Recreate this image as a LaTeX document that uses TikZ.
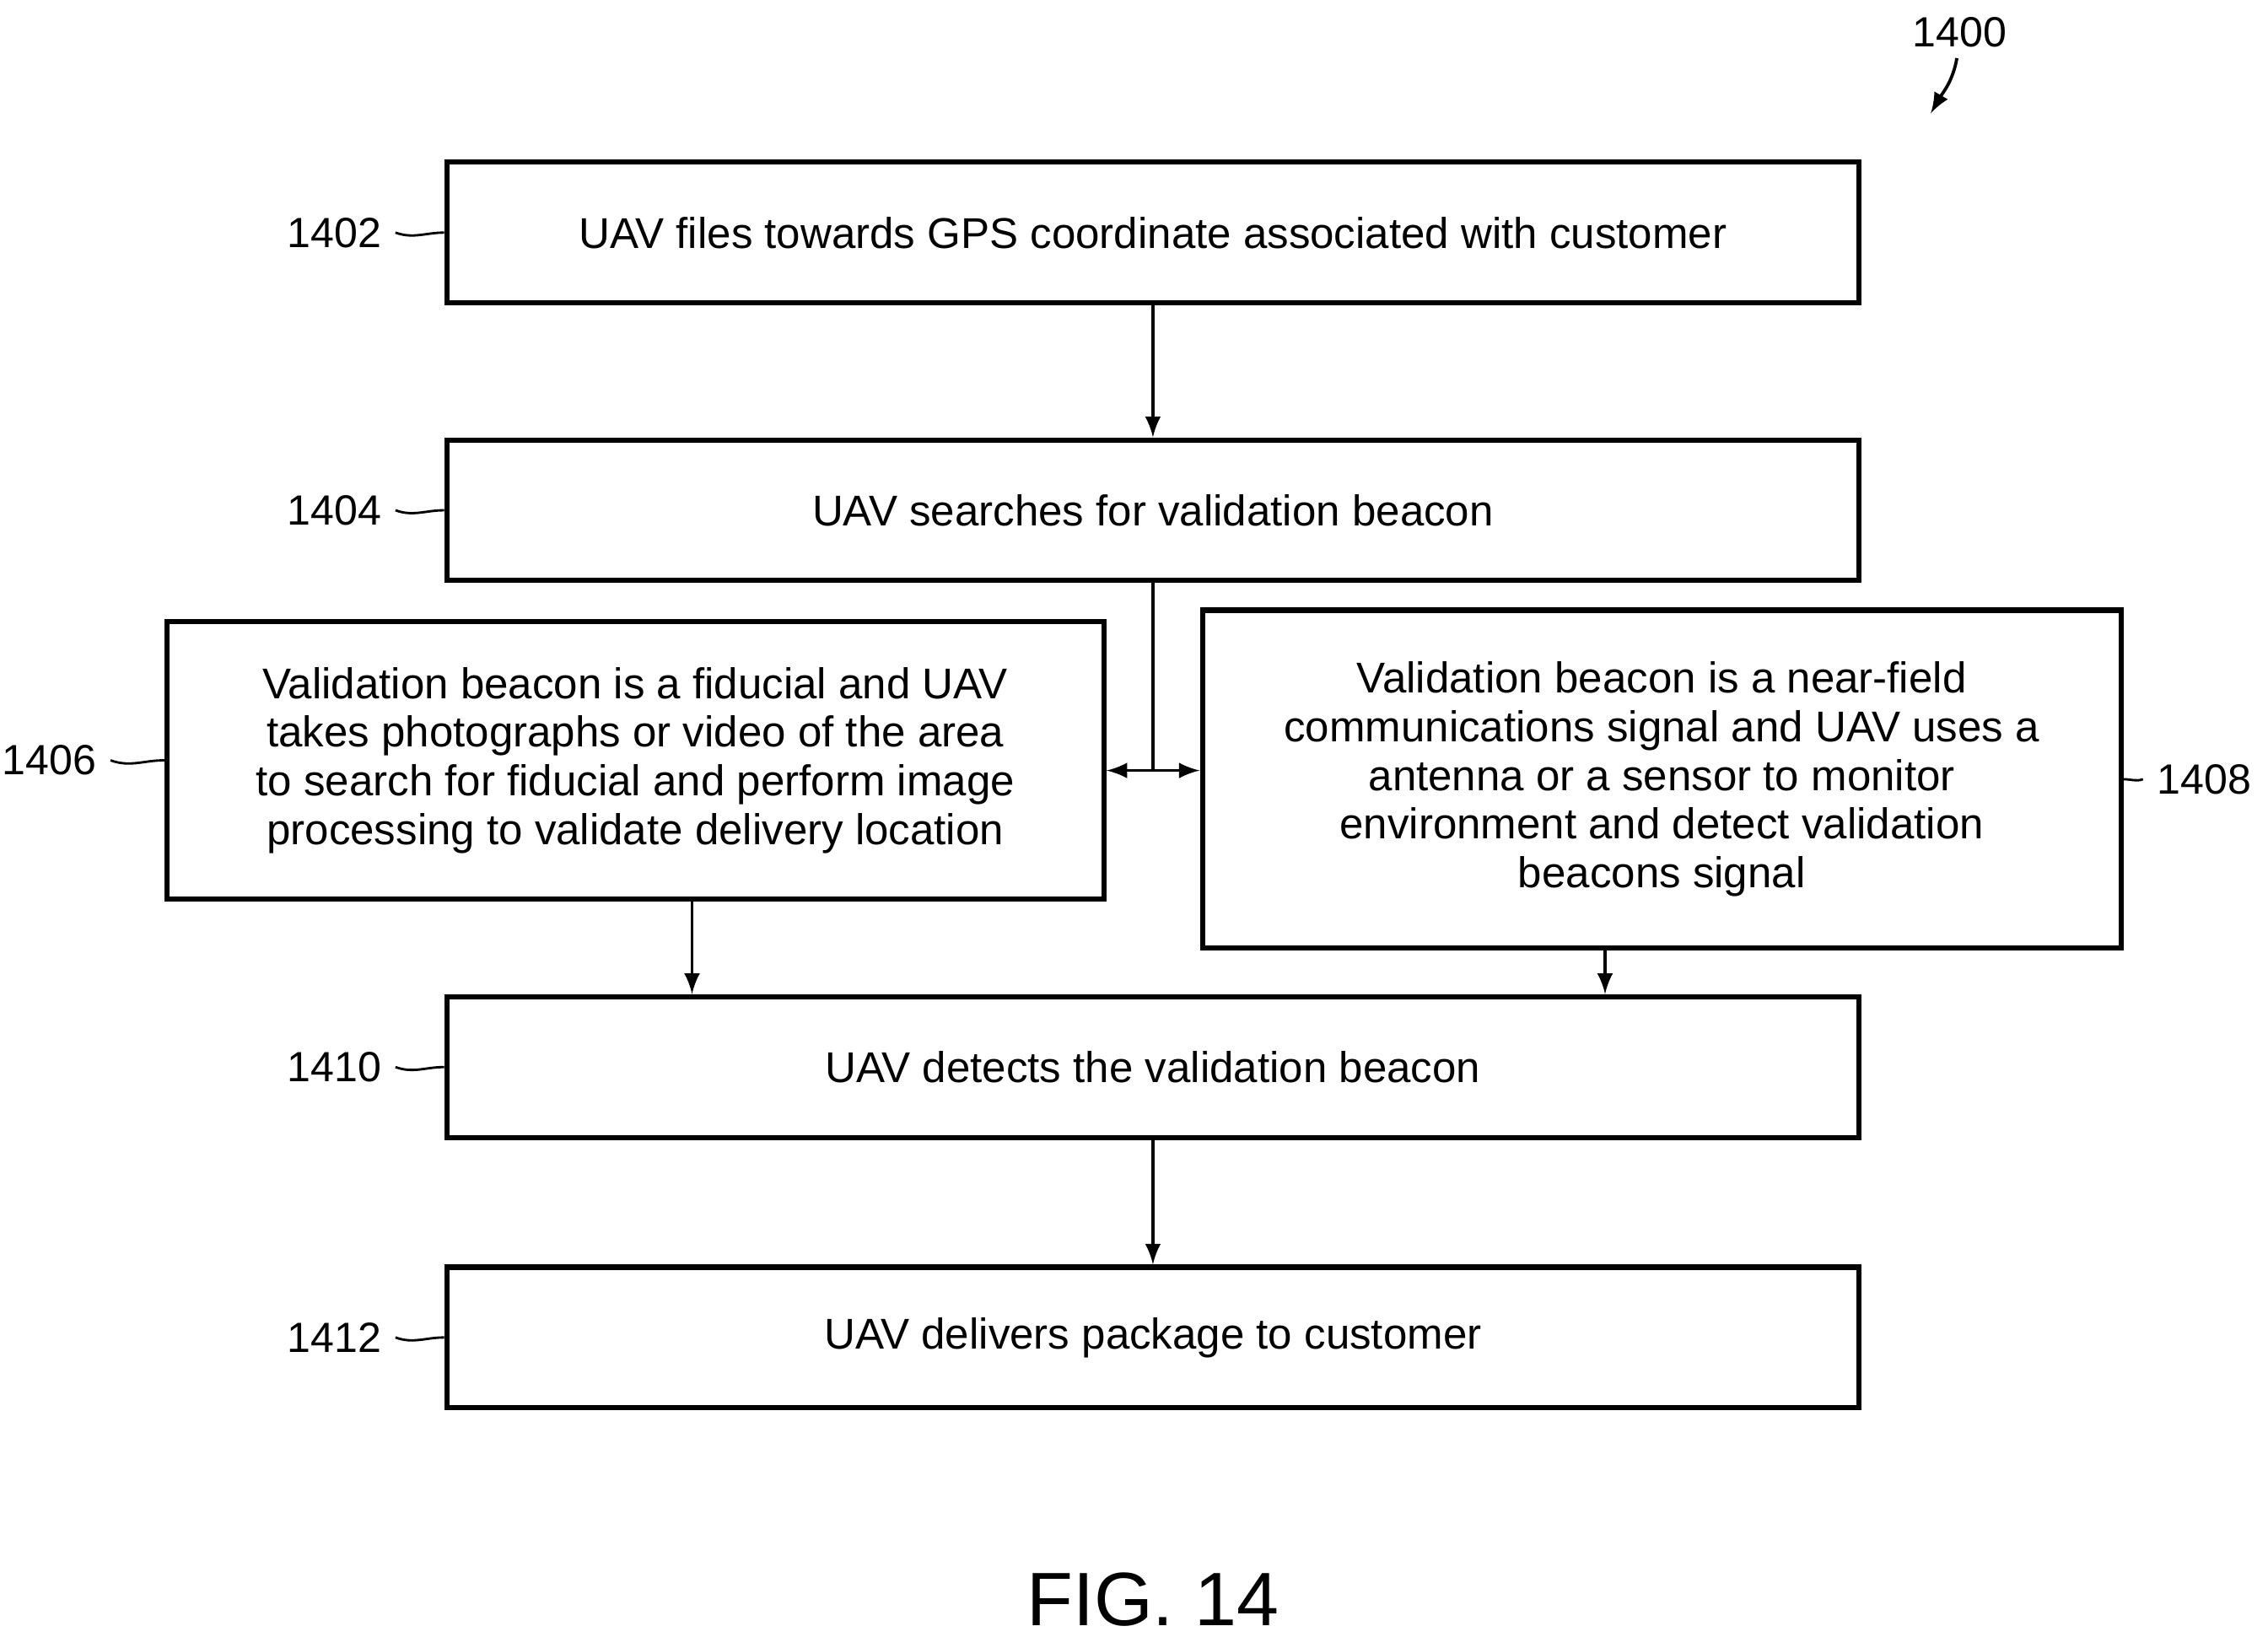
\documentclass[tikz,border=0pt]{standalone}
\usepackage{fontspec}
\setmainfont{Liberation Sans}
\usetikzlibrary{positioning}
\begin{document}
\begin{tikzpicture}[x=0.01282cm,y=-0.01282cm,
    box/.style={draw,line width=1.3pt,minimum height=1.24cm,align=center,
      font=\fontsize{10.8}{12.2}\selectfont,inner sep=0pt},
    ref/.style={font=\fontsize{10.6}{12}\selectfont,anchor=east},
    arr/.style={->,>=latex,line width=0.8pt}]
  \useasboundingbox (0,0) rectangle (1560,1126);
  % boxes
  \node[box,minimum width=12.45cm] (s1402) at (793,160) {UAV files towards GPS coordinate associated with customer};
  \node[box,minimum width=12.45cm] (s1404) at (793,351) {UAV searches for validation beacon};
  \node[box,minimum width=8.26cm,minimum height=2.45cm] (s1406) at (437,523)
    {Validation beacon is a fiducial and UAV\\takes photographs or video of the area\\to search for fiducial and perform image\\processing to validate delivery location};
  \node[box,minimum width=8.1cm,minimum height=2.98cm] (s1408) at (1143,536)
    {Validation beacon is a near-field\\communications signal and UAV uses a\\antenna or a sensor to monitor\\environment and detect validation\\beacons signal};
  \node[box,minimum width=12.45cm] (s1410) at (793,734) {UAV detects the validation beacon};
  \node[box,minimum width=12.45cm] (s1412) at (793,920) {UAV delivers package to customer};
  % reference numbers
  \foreach \n/\y in {1402/160,1404/351,1410/734,1412/920}{
    \node[ref] (r\n) at (272,\y) {\n};
    \draw[line width=0.6pt] (r\n.east) to[out=-20,in=180] (s\n.west);
  }
  \node[ref] (r1406) at (76,523) {1406};
  \draw[line width=0.6pt] (r1406.east) to[out=-20,in=180] (s1406.west);
  \node[ref] (r1408) at (1558,536) {1408};
  \draw[line width=0.6pt] (s1408.east) to[out=0,in=200] (r1408.west);
  \node[font=\fontsize{10.6}{12}\selectfont] (r1400) at (1348,22) {1400};
  \coordinate (t1400) at (1328,78);
  \draw[arr] (1346,40) to[out=-100,in=60] (t1400);
  % connectors
  \draw[arr] (s1402) -- (s1404);
  \coordinate (split) at (793,530);
  \coordinate (c6) at (476,0);
  \coordinate (c8) at (1104,0);
  \draw[line width=0.8pt] (s1404.south -| split) -- (split);
  \draw[<->,>=latex,line width=0.8pt] (s1406.east |- split) -- (s1408.west |- split);
  \draw[arr] (s1406.south -| c6) -- (s1410.north -| c6);
  \draw[arr] (s1408.south -| c8) -- (s1410.north -| c8);
  \draw[arr] (s1410) -- (s1412);
  \node[font=\fontsize{19}{22}\selectfont] (fig) at (793,1100) {FIG. 14};
\end{tikzpicture}
\end{document}
